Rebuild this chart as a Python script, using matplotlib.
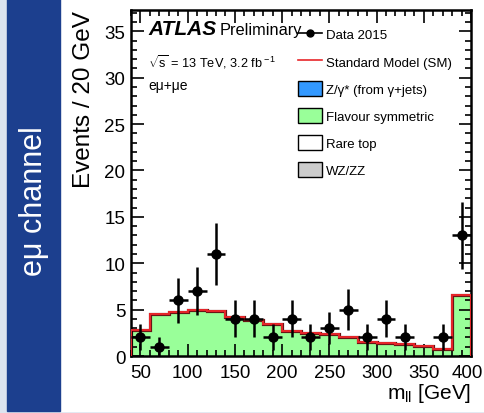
import numpy as np
import matplotlib
matplotlib.use("Agg")
import matplotlib.pyplot as plt
from matplotlib.patches import Patch, Rectangle
from matplotlib.lines import Line2D
from matplotlib.ticker import MultipleLocator
from matplotlib.transforms import ScaledTranslation

plt.rcParams["font.family"] = ["Liberation Sans", "DejaVu Sans"]
plt.rcParams["mathtext.fontset"] = "custom"
plt.rcParams["mathtext.rm"] = "Liberation Sans"
plt.rcParams["mathtext.it"] = "Liberation Sans:italic"

# m_ll bins, 20 GeV wide (last bin includes overflow)
bin_edges = list(range(40, 401, 20))
bin_centres = [50, 70, 90, 110, 130, 150, 170, 190, 210, 230,
               250, 270, 290, 310, 330, 350, 370, 390]

# data 2015 (eμ+μe)
data_counts = [2, 1, 6, 7, 11, 4, 4, 2, 4, 2, 3, 5, 2, 4, 2, 0, 2, 13]
data_err = [1.4, 1.0, 2.4, 2.6, 3.3, 2.0, 2.0, 1.4, 2.0, 1.4,
            1.7, 2.2, 1.4, 2.0, 1.4, 0.0, 1.4, 3.6]

# total SM prediction (dominated by flavour symmetric)
sm_total = [2.8, 4.5, 4.7, 5.0, 4.8, 4.2, 3.9, 3.5, 2.7, 2.45,
            2.35, 2.1, 1.55, 1.37, 1.26, 1.04, 0.76, 6.6]

legend_labels = ["Data 2015", "Standard Model (SM)", "Z/γ* (from γ+jets)",
                 "Flavour symmetric", "Rare top", "WZ/ZZ"]

green = "#99ff99"
blue = "#3399ff"
grey = "#cccccc"
red = "#e8262a"

fig = plt.figure(figsize=(4.85, 4.14), dpi=100, facecolor="#dde4ef")
# white slide area and blue side banner
fig.patches.append(Rectangle((60 / 485, 2 / 414), 425 / 485, 412 / 414,
                             transform=fig.transFigure, color="white", zorder=-2))
fig.patches.append(Rectangle((7 / 485, 2 / 414), 53 / 485, 412 / 414,
                             transform=fig.transFigure, color="#1c3f8e", zorder=-1))
fig.text(34 / 485, 1 - 201 / 414, "eμ channel", rotation=90, color="white",
         fontsize=22, ha="center", va="center")

ax = fig.add_axes([131 / 485, 1 - 357 / 414, 340 / 485, 346 / 414])

ax.stairs(sm_total, bin_edges, fill=True, color=green, zorder=1)
ax.stairs(sm_total, bin_edges, color="#6a1515", linewidth=2.3, zorder=2)
ax.stairs(sm_total, bin_edges, color=red, linewidth=1.4, zorder=3)

pts = [(x, y, e) for x, y, e in zip(bin_centres, data_counts, data_err) if y > 0]
px = [p[0] for p in pts]
py = [p[1] for p in pts]
pe = [p[2] for p in pts]
ax.errorbar(px, py, yerr=pe, xerr=10, fmt="o", color="black", markersize=6.5,
            elinewidth=1.8, capsize=0, zorder=5)

ax.set_xlim(40, 400)
ax.set_ylim(0, 37.3)
ax.xaxis.set_minor_locator(MultipleLocator(10))
ax.yaxis.set_major_locator(MultipleLocator(5))
ax.yaxis.set_minor_locator(MultipleLocator(1))
ax.set_xticks(range(50, 401, 50))
ax.tick_params(which="both", direction="in", top=True, right=True, width=1.2)
ax.tick_params(which="major", length=9, labelsize=13.5)
ax.tick_params(axis="x", which="major", pad=6)
ax.tick_params(axis="y", which="major", pad=4)
ax.tick_params(which="minor", length=4.5)
for s in ax.spines.values():
    s.set_linewidth(1.8)

# keep the "400" label inside the picture
last = ax.get_xticklabels()[-1]
last.set_transform(last.get_transform() + ScaledTranslation(-4 / 100, 0, fig.dpi_scale_trans))

ax.set_ylabel("Events / 20 GeV", fontsize=17.5, loc="top", labelpad=7)
ax.set_xlabel(r"m$_{\rm ll}$ [GeV]", fontsize=15, loc="right", labelpad=0)

ax.text(0.05, 0.931, "ATLAS", transform=ax.transAxes, fontsize=15,
        fontweight="bold", fontstyle="italic", va="baseline")
ax.text(0.262, 0.931, "Preliminary", transform=ax.transAxes, fontsize=11.8,
        va="baseline")
ax.text(0.05, 0.853, r"$\sqrt{\rm s}$ = 13 TeV, 3.2 fb$^{\rm -1}$",
        transform=ax.transAxes, fontsize=9.2, va="center")
ax.text(0.05, 0.783, "eμ+μe", transform=ax.transAxes, fontsize=10, va="center")

handles = [
    Line2D([], [], color="black", marker="o", markersize=5, linewidth=1.2),
    Line2D([], [], color=red, linewidth=1.2),
    Patch(facecolor=blue, edgecolor="black", linewidth=1),
    Patch(facecolor=green, edgecolor="black", linewidth=1),
    Patch(facecolor="white", edgecolor="black", linewidth=1),
    Patch(facecolor=grey, edgecolor="black", linewidth=1),
]
ax.legend(handles, legend_labels, loc="upper left", bbox_to_anchor=(0.491, 0.952),
          frameon=False, fontsize=9.5, borderpad=0, borderaxespad=0,
          handlelength=1.8, handleheight=1.36, handletextpad=0.3,
          labelspacing=0.93)

fig.savefig("out.png", dpi=100, facecolor=fig.get_facecolor())
